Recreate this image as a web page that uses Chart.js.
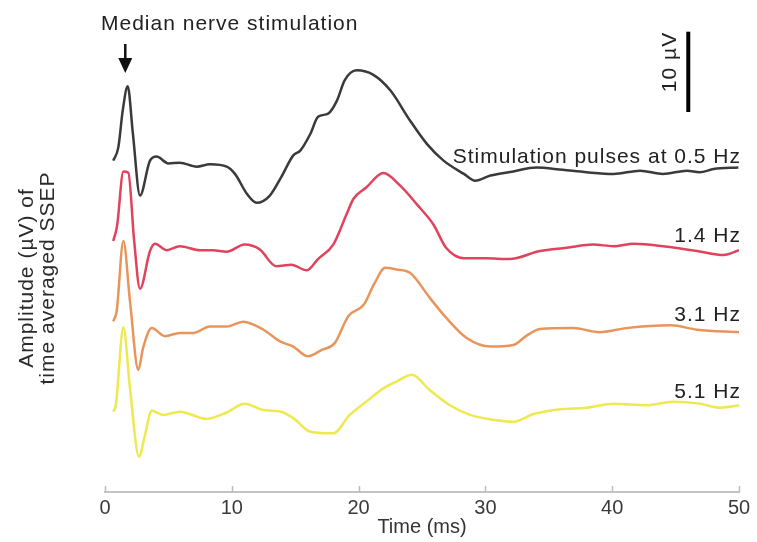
<!DOCTYPE html>
<html>
<head>
<meta charset="utf-8">
<script src="https://cdn.jsdelivr.net/npm/chart.js@4.4.1/dist/chart.umd.min.js"></script>
<style>
  html, body { margin: 0; padding: 0; background: #fff; }
  #wrap { width: 757px; height: 542px; position: relative; }
</style>
</head>
<body>
<div id="wrap"><canvas id="ssepChart" width="757" height="542"></canvas></div>
<script>
// traces; values in uV, already stacked with their offsets
const xTicks = [0, 10, 20, 30, 40, 50];
const traceLabels = ['Stimulation pulses at 0.5 Hz', '1.4 Hz', '3.1 Hz', '5.1 Hz'];
const traceColors = ['#3a3a3a', '#e0435b', '#e8955c', '#ede94f'];

const t05 = [0.65, 1.05, 1.4, 1.79, 2.2, 2.76, 3.55, 4.07, 5.0, 5.9, 7.23, 8.28, 9.6, 10.25, 11.2, 11.96, 13.0, 13.9, 14.85, 15.4, 16.2, 16.8, 17.6, 18.3, 18.9, 19.85, 21.2, 22.5, 24.05, 25.4, 26.7, 28.3, 29.2, 30.4, 32.2, 34.0, 36.1, 38.0, 40.1, 42.2, 44.0, 45.9, 46.9, 48.0, 49.95];
const v05 = [41.25, 42.9, 47.5, 50.5, 44.6, 36.9, 41.25, 41.75, 40.9, 41.0, 40.5, 40.8, 40.5, 39.6, 37.1, 36.0, 36.9, 39.2, 41.9, 42.5, 44.6, 46.7, 47.1, 48.75, 51.25, 52.5, 51.9, 50.0, 46.25, 43.3, 41.25, 39.6, 38.75, 39.4, 39.9, 40.4, 40.1, 39.8, 39.6, 40.0, 39.6, 40.0, 39.8, 40.2, 40.4];

const t14 = [0.65, 0.95, 1.45, 1.84, 2.3, 2.76, 3.55, 3.94, 4.87, 5.9, 7.5, 8.5, 9.6, 11.0, 12.2, 13.5, 14.7, 15.9, 16.8, 18.0, 19.06, 19.6, 20.6, 21.95, 23.3, 24.6, 25.9, 26.9, 28.3, 30.0, 31.9, 34.3, 36.4, 38.5, 40.1, 41.7, 44.0, 46.7, 48.8, 50];
const v14 = [31.25, 33.1, 39.9, 39.75, 31.25, 25.3, 30.0, 30.9, 30.1, 30.6, 30.1, 30.1, 29.9, 30.8, 30.2, 28.1, 28.3, 27.6, 29.0, 30.8, 34.6, 36.5, 37.9, 39.7, 38.1, 35.8, 33.3, 30.4, 29.1, 29.1, 29.0, 30.0, 30.4, 30.8, 30.6, 30.9, 30.6, 30.0, 29.5, 30.1];

const t31 = [0.65, 0.92, 1.45, 1.97, 2.63, 3.0, 3.68, 4.73, 5.9, 6.96, 8.28, 9.6, 10.9, 12.5, 13.8, 14.85, 16.0, 17.1, 18.1, 19.2, 20.4, 21.2, 22.1, 23.0, 24.05, 25.6, 26.9, 28.5, 30.4, 32.2, 33.2, 34.3, 36.9, 39.0, 41.1, 44.6, 46.7, 50];
const v31 = [21.25, 22.5, 31.25, 23.75, 15.2, 17.9, 20.4, 19.4, 19.8, 19.8, 20.6, 20.6, 21.2, 20.2, 18.75, 18.1, 16.9, 17.7, 18.5, 21.9, 23.3, 25.8, 27.9, 27.7, 27.3, 24.2, 21.7, 19.2, 18.1, 18.3, 19.4, 20.3, 20.4, 19.9, 20.4, 20.75, 20.2, 19.9];

const t51 = [0.65, 0.85, 1.45, 1.97, 2.68, 3.15, 3.68, 4.6, 5.9, 8.0, 9.6, 11.0, 12.5, 13.9, 14.85, 16.2, 18.0, 19.3, 20.6, 21.95, 23.0, 24.2, 25.6, 27.2, 28.8, 30.6, 32.2, 33.8, 35.9, 38.0, 40.1, 42.7, 44.8, 46.9, 48.5, 50];
const v51 = [10.0, 10.8, 20.5, 12.9, 4.4, 7.1, 10.1, 9.6, 10.0, 9.1, 9.9, 11.0, 10.2, 10.0, 9.2, 7.5, 7.3, 9.6, 11.25, 12.9, 13.75, 14.6, 12.7, 10.8, 9.6, 9.0, 8.75, 9.7, 10.3, 10.5, 11.0, 10.8, 11.25, 11.0, 10.5, 10.8];

const scaleBarUv = 10;

function toPoints(ts, vs) {
  return ts.map(function(t, i) { return { x: t, y: vs[i] }; });
}

const traces = [toPoints(t05, v05), toPoints(t14, v14), toPoints(t31, v31), toPoints(t51, v51)];

const FONT = "'Liberation Sans', Arial, Helvetica, sans-serif";
Chart.defaults.font.family = FONT;

// labels, arrow, scale bar, inward tick marks
const annotate = {
  id: 'annotate',
  afterDraw: function(chart) {
    const ctx = chart.ctx;
    const xs = chart.scales.x;
    const ys = chart.scales.y;
    const area = chart.chartArea;
    ctx.save();

    // inward ticks on the time axis
    ctx.strokeStyle = '#bdbdbd';
    ctx.lineWidth = 1.5;
    xTicks.forEach(function(t) {
      const px = Math.round(xs.getPixelForValue(t)) + 0.5;
      ctx.beginPath();
      ctx.moveTo(px, area.bottom - 6);
      ctx.lineTo(px, area.bottom);
      ctx.stroke();
    });

    ctx.fillStyle = '#222';
    ctx.letterSpacing = '1px';
    ctx.font = '21px ' + FONT;
    ctx.textAlign = 'left';
    ctx.textBaseline = 'alphabetic';
    ctx.fillText('Median nerve stimulation', 101, 30);

    // arrow at the stimulus
    const ax = xs.getPixelForValue(1.6);
    ctx.strokeStyle = '#111';
    ctx.lineWidth = 2.5;
    ctx.beginPath();
    ctx.moveTo(ax, 44);
    ctx.lineTo(ax, 62);
    ctx.stroke();
    ctx.fillStyle = '#111';
    ctx.beginPath();
    ctx.moveTo(ax - 7, 58);
    ctx.lineTo(ax + 7, 58);
    ctx.lineTo(ax, 73);
    ctx.closePath();
    ctx.fill();

    // 10 uV scale bar
    const bx = xs.getPixelForValue(46.0);
    const bTop = ys.getPixelForValue(57.3);
    const bBot = ys.getPixelForValue(57.3 - scaleBarUv);
    ctx.strokeStyle = '#000';
    ctx.lineWidth = 4;
    ctx.beginPath();
    ctx.moveTo(bx, bTop);
    ctx.lineTo(bx, bBot);
    ctx.stroke();

    ctx.fillStyle = '#222';
    ctx.save();
    ctx.translate(bx - 12, 62);
    ctx.rotate(-Math.PI / 2);
    ctx.textAlign = 'center';
    ctx.font = '21px ' + FONT;
    ctx.fillText('10 \u00b5V', 0, 0);
    ctx.restore();

    // trace labels
    const labelBase = [163, 242, 321, 398];
    ctx.textAlign = 'right';
    ctx.fillStyle = '#222';
    traceLabels.forEach(function(txt, i) {
      ctx.fillText(txt, area.right + 2, labelBase[i]);
    });

    // y axis title
    ctx.save();
    ctx.font = '21px ' + FONT;
    ctx.textAlign = 'center';
    ctx.fillStyle = '#2a2a2a';
    ctx.translate(0, 278);
    ctx.rotate(-Math.PI / 2);
    ctx.fillText('Amplitude (\u00b5V) of', 0, 33);
    ctx.fillText('time averaged SSEP', 0, 54);
    ctx.restore();

    ctx.restore();
  }
};

const ssepChart = new Chart(document.getElementById('ssepChart'), {
  type: 'line',
  data: {
    datasets: traces.map(function(pts, i) {
      return {
        label: traceLabels[i],
        data: pts,
        borderColor: traceColors[i],
        borderWidth: 2.5,
        pointRadius: 0,
        fill: false,
        cubicInterpolationMode: 'monotone'
      };
    })
  },
  options: {
    responsive: false,
    animation: false,
    layout: { padding: { left: 105, right: 18, top: 10, bottom: 0 } },
    plugins: {
      legend: { display: false },
      tooltip: { enabled: false }
    },
    scales: {
      x: {
        type: 'linear',
        min: 0,
        max: 50,
        afterBuildTicks: function(scale) {
          scale.ticks = xTicks.map(function(v) { return { value: v }; });
        },
        grid: { display: false, drawTicks: false },
        border: { display: true, color: '#c4c4c4', width: 2 },
        ticks: {
          color: '#3a3a3a',
          font: { size: 20, lineHeight: 1 },
          padding: 6,
          maxRotation: 0
        },
        title: {
          display: true,
          text: 'Time (ms)',
          color: '#333',
          font: { size: 20, lineHeight: 1 },
          padding: { top: -7, bottom: 5 }
        }
      },
      y: {
        display: false,
        min: 0,
        max: 60
      }
    }
  },
  plugins: [annotate]
});
</script>
</body>
</html>
